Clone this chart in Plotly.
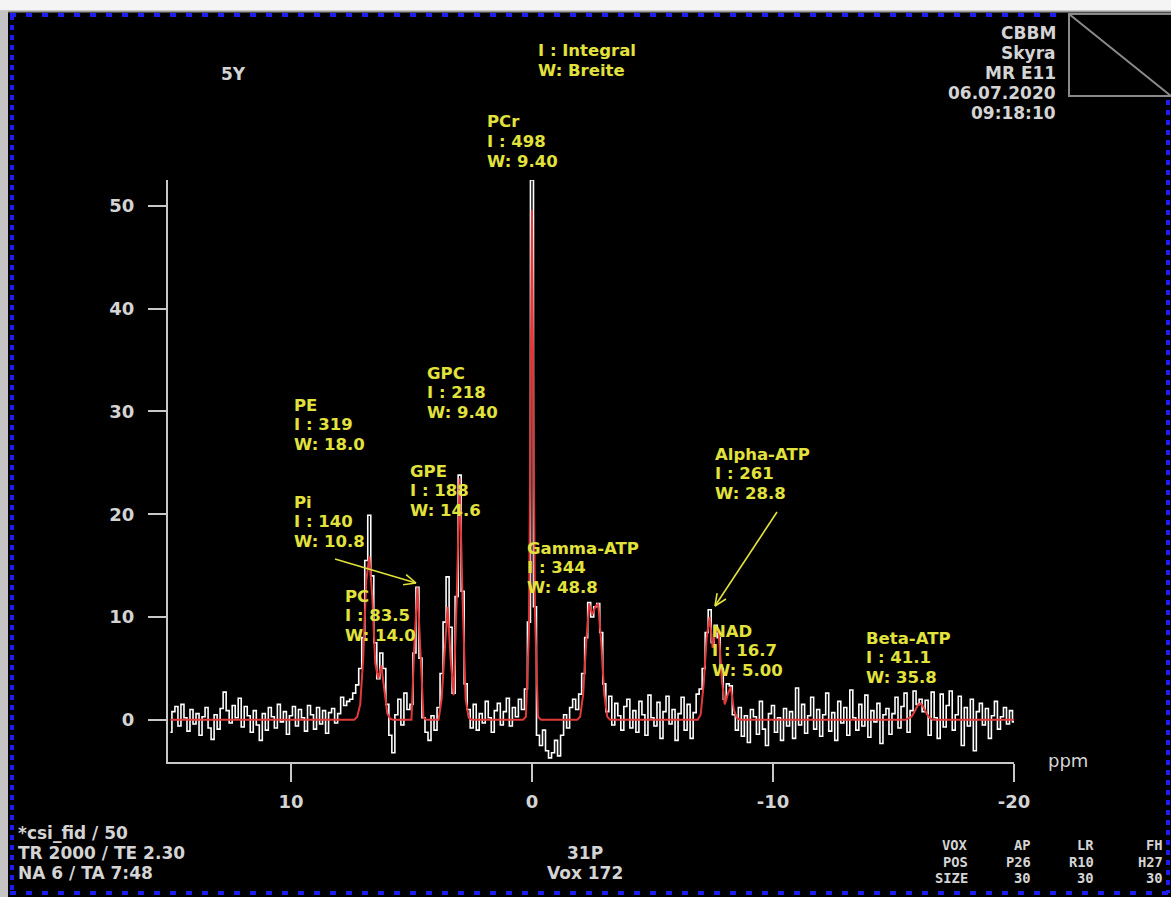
import math
import plotly.graph_objects as go

# ---------------- data ----------------
PPM_START = 15.0
PPM_STEP = -0.125

# measured 31P spectrum (white), one value per sample from 15 ppm to -20 ppm
spectrum = [
    -1.2, 0.8, 1.3, -0.6, 1.5, 0.2, -1.1, 1.0, -0.4, 0.6,
    -1.5, 0.3, 1.2, -0.8, -1.9, 0.5, -0.9, 1.1, 2.7, 0.9,
    -0.3, 1.4, 0.2, 2.1, -0.7, 1.3, 0.4, -1.2, 0.9, -0.5,
    -2.0, 0.6, -1.0, 1.2, 0.3, -0.8, 1.5, -0.2, 0.8, -1.4,
    0.4, 1.3, -0.6, 1.0, 0.2, -1.1, 1.4, 0.5, -0.9, 1.2,
    -0.4, 0.9, -1.3, 0.7, 1.1, -0.3, 0.6, 2.2, 1.4, 1.8,
    2.0, 2.6, 3.4, 5.0, 8.0, 15.5, 19.9, 14.0, 7.5, 4.0,
    6.5, 5.0, 1.5, -1.5, -3.2, 0.5, 2.0, -0.5, 2.6, 1.0,
    1.5, 6.5, 12.9, 6.0, 0.2, -1.2, -2.0, 0.4, -1.0, 1.2,
    4.5, 9.5, 13.9, 9.0, 2.6, 12.0, 23.8, 12.5, 3.5, 1.0,
    -0.8, 1.5, -1.0, 0.6, -0.3, 1.8, 0.2, -1.2, 0.9, 1.6,
    -0.5, 0.8, 2.1, -0.6, 1.2, 0.3, 2.0, 1.0, 3.0, 9.5,
    52.5, 11.0, -1.5, -2.5, -1.0, -3.0, -3.7, -3.2, -2.0, -3.5,
    -1.5, 0.5, -0.8, 1.2, 2.0, 1.0, 2.5, 4.5, 8.0, 11.4,
    10.0, 11.0, 11.3, 8.5, 3.5, 0.8, 2.3, -0.5, 1.6, 0.4,
    -1.0, 1.3, 2.0, -0.8, 0.9, -1.2, 1.8, 0.5, -1.5, 2.4,
    0.2, -0.6, 1.7, -1.8, 0.8, 2.3, -0.4, 1.0, -2.0, 0.6,
    2.2, -1.0, 1.5, -1.8, 0.7, 2.5, 3.0, 5.0, 8.5, 10.7,
    7.5, 9.2, 8.0, 5.0, 2.0, 3.5, 3.3, 0.5, -1.0, 1.2,
    -1.6, 0.4, -2.2, 1.0, 0.3, -1.4, 1.8, -0.9, -2.5, 0.6,
    1.4, -1.2, 0.2, -2.0, 1.1, -0.6, 0.8, -1.8, 3.1, -0.5,
    1.5, -1.3, 0.4, 2.2, -0.9, 1.0, -1.6, 0.5, 2.6, -1.1,
    0.7, -2.0, 1.8, -0.3, 1.2, -1.5, 2.9, 0.2, -1.0, 1.5,
    -0.6, 2.4, -1.7, 0.9, -0.2, 1.6, -2.3, 0.5, 1.1, -1.4,
    0.6, 2.2, -0.8, 1.3, 2.6, -1.2, 0.9, 2.8, 1.5, 2.0,
    0.8, 1.9, -1.5, 2.7, 0.2, -1.8, 2.5, -0.7, 1.4, 2.8,
    -1.0, 0.5, 2.3, -2.5, 1.2, -0.6, 2.0, -3.0, 0.8, 1.6,
    -0.5, 1.1, -1.8, 0.4, 1.8, -0.9, 0.3, 1.2, -0.4, 0.9, -0.2,
]
spectrum_ppm = [PPM_START + PPM_STEP * i for i in range(len(spectrum))]

# fitted model (red)
fit_ppm = [
    15.0,
    7.375, 7.25, 7.125, 7.0, 6.875, 6.75, 6.625, 6.5, 6.375, 6.25, 6.125, 6.0, 5.875, 5.75,
    5.0, 4.875, 4.75, 4.625, 4.5, 4.375,
    3.875, 3.75, 3.625, 3.5, 3.375, 3.25, 3.125, 3.0, 2.875, 2.75, 2.625, 2.5,
    0.375, 0.25, 0.125, 0.0, -0.125, -0.25, -0.375,
    -1.875, -2.0, -2.125, -2.25, -2.375, -2.5, -2.625, -2.75, -2.875, -3.0, -3.125, -3.25,
    -6.875, -7.0, -7.125, -7.25, -7.375, -7.5, -7.625, -7.75, -7.875, -8.0, -8.125, -8.25, -8.375, -8.5, -8.625,
    -15.5, -15.75, -15.875, -16.0, -16.125, -16.25, -16.375, -16.5, -16.625,
    -20.0,
]
fit_val = [
    0.0,
    0.0, 0.3, 1.5, 6.0, 13.5, 15.9, 12.0, 5.5, 4.0, 5.3, 3.0, 0.6, 0.1, 0.0,
    0.0, 7.5, 12.9, 7.0, 0.2, 0.0,
    0.0, 2.0, 7.0, 11.0, 6.0, 2.4, 11.5, 23.5, 11.5, 2.0, 0.2, 0.0,
    0.0, 0.3, 8.5, 49.6, 10.5, 0.3, 0.0,
    0.0, 0.3, 2.5, 7.5, 11.3, 10.2, 11.0, 11.3, 7.5, 2.5, 0.3, 0.0,
    0.0, 0.5, 3.5, 8.0, 10.0, 7.0, 8.8, 8.5, 4.0, 1.5, 2.5, 3.2, 1.0, 0.2, 0.0,
    0.0, 0.3, 0.8, 1.4, 1.6, 1.2, 0.6, 0.2, 0.0,
    0.0,
]

# peak labels
peak_names = ["PCr", "GPC", "PE", "GPE", "Pi", "PC", "Gamma-ATP", "Alpha-ATP", "NAD", "Beta-ATP"]
peak_integrals = ["498", "218", "319", "188", "140", "83.5", "344", "261", "16.7", "41.1"]
peak_widths = ["9.40", "9.40", "18.0", "14.6", "10.8", "14.0", "48.8", "28.8", "5.00", "35.8"]

x_ticks = [10, 0, -10, -20]
y_ticks = [0, 10, 20, 30, 40, 50]

header_lines = ["CBBM", "Skyra", "MR E11", "06.07.2020", "09:18:10"]
footer_left = ["*csi_fid / 50", "TR 2000 / TE 2.30", "NA 6 / TA 7:48"]
footer_mid = ["31P", "Vox 172"]
footer_cols = [["VOX", "POS", "SIZE"], ["AP", "P26", "30"], ["LR", "R10", "30"], ["FH", "H27", "30"]]

# ---------------- layout (pixels) ----------------
W, H = 1171, 897
L, R, T, B = 168, 157, 180, 135
PW, PH = W - L - R, H - T - B


def px(x):
    return (x - L) / PW


def py(y):
    return (H - B - y) / PH


YELLOW = "#e2e23c"
GREY = "#d4d4d4"
FONT = "DejaVu Sans, Arial, sans-serif"

# label anchor: left x, centre y of first line (pixels)
label_pos = [(486, 122), (426, 373), (293, 405), (409, 471), (293, 502),
             (344, 596), (526, 548), (714, 454), (711, 631), (865, 638)]
LINE = 19.6

fig = go.Figure()
fig.add_trace(go.Scatter(x=spectrum_ppm, y=spectrum, mode="lines",
                         line=dict(color="#ffffff", width=1.6, shape="hvh"),
                         hoverinfo="skip", showlegend=False))
fig.add_trace(go.Scatter(x=fit_ppm, y=fit_val, mode="lines",
                         line=dict(color="#e23a3a", width=2),
                         hoverinfo="skip", showlegend=False))

ann = []


def text(x, y, s, color=GREY, size=16.5, anchor="left", family=FONT, weight="bold"):
    ann.append(dict(x=px(x), y=py(y), xref="paper", yref="paper", text=s,
                    showarrow=False, xanchor=anchor, yanchor="middle",
                    borderpad=0, font=dict(color=color, size=size, family=family, weight=weight)))


for (lx, ly), n, i, w in zip(label_pos, peak_names, peak_integrals, peak_widths):
    text(lx, ly, n, YELLOW)
    text(lx, ly + LINE, "I : " + i, YELLOW)
    text(lx, ly + 2 * LINE, "W: " + w, YELLOW)

text(537, 51, "I : Integral", YELLOW)
text(537, 51 + LINE, "W: Breite", YELLOW)

text(220, 74, "5Y", GREY, size=17)
for k, s in enumerate(header_lines):
    text(1057, 33 + k * 20, s, GREY, size=17, anchor="right")
for k, s in enumerate(footer_left):
    text(17, 833 + k * 20, s, GREY, size=17)
text(585, 853, footer_mid[0], GREY, size=17, anchor="center")
text(585, 873, footer_mid[1], GREY, size=17, anchor="center")
col_right = [969, 1032, 1095, 1164]
for cx, col in zip(col_right, footer_cols):
    for k, s in enumerate(col):
        text(cx, 845 + k * 16.5, s, GREY, size=13.8, anchor="right",
             family="DejaVu Sans Mono, monospace")
text(1047, 760, "ppm", GREY, size=18, weight="normal")

shapes = []


def seg(x0, y0, x1, y1, color, width, dash=None):
    d = dict(type="line", xref="paper", yref="paper", x0=px(x0), y0=py(y0),
             x1=px(x1), y1=py(y1), line=dict(color=color, width=width))
    if dash:
        d["line"]["dash"] = dash
    shapes.append(d)


def rect(x0, y0, x1, y1, fill, line=None, lw=0):
    shapes.append(dict(type="rect", xref="paper", yref="paper", x0=px(x0), y0=py(y0),
                       x1=px(x1), y1=py(y1), fillcolor=fill,
                       line=dict(color=line or fill, width=lw), layer="above"))


# frame decorations
rect(0, 0, W, 11, "#f4f4f4")
seg(0, 11.5, W, 11.5, "#9a9a9a", 2)
rect(0, 11, 8, H, "#c4c4c4")
rect(1069, 14, W + 5, 96, "rgba(0,0,0,0)", "#8a8a8a", 2)
seg(1069, 14, W, 96, "#8a8a8a", 2)
BLUE = "#1c1cf0"
seg(10, 15, 1064, 15, BLUE, 4, "6px,10px")
seg(12, 15, 12, 893, BLUE, 4, "5px,5px")
seg(10, 893, W, 893, BLUE, 4, "6px,10px")
seg(1168, 100, 1168, 893, BLUE, 4, "5px,5px")

# yellow arrows (open V heads)
for (hx, hy), (tx, ty) in [((416, 583), (335, 559)), ((715, 606), (777, 512))]:
    seg(tx, ty, hx, hy, YELLOW, 1.6)
    ang = math.atan2(ty - hy, tx - hx)
    for d in (0.42, -0.42):
        seg(hx, hy, hx + 13 * math.cos(ang + d), hy + 13 * math.sin(ang + d), YELLOW, 1.6)

fig.update_layout(
    width=W, height=H,
    margin=dict(l=L, r=R, t=T, b=B, pad=0),
    paper_bgcolor="#000000", plot_bgcolor="#000000",
    showlegend=False,
    annotations=ann, shapes=shapes,
    xaxis=dict(range=[15.1, -20.0], tickvals=x_ticks, ticktext=[str(v) for v in x_ticks],
               showgrid=False, zeroline=False, showline=True, linecolor="#c8c8c8", linewidth=2,
               ticks="outside", ticklen=18, tickwidth=2, tickcolor="#c8c8c8",
               tickfont=dict(color=GREY, size=18, family=FONT, weight="bold"), ticklabelstandoff=4),
    yaxis=dict(range=[-4.1, 52.5], tickvals=y_ticks,
               showgrid=False, zeroline=False, showline=True, linecolor="#c8c8c8", linewidth=2,
               ticks="outside", ticklen=18, tickwidth=2, tickcolor="#c8c8c8",
               tickfont=dict(color=GREY, size=18, family=FONT, weight="bold"), ticklabelstandoff=10),
)

fig.write_html("out.html")
